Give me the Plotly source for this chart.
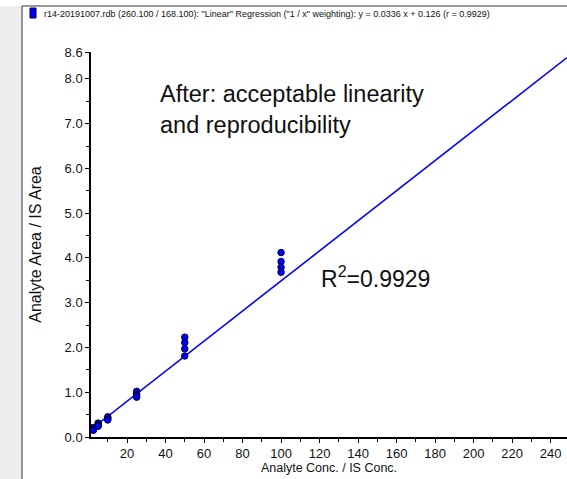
import plotly.graph_objects as go

# ---- data ----
conc = [2.5]*4 + [5]*4 + [10]*4 + [25]*4 + [50]*4 + [100]*4
ratio = [0.21, 0.18, 0.16, 0.15,
         0.31, 0.28, 0.26, 0.24,
         0.45, 0.42, 0.40, 0.38,
         1.02, 0.97, 0.93, 0.89,
         2.23, 2.11, 1.97, 1.81,
         4.12, 3.92, 3.79, 3.68]
slope = 0.0336
intercept = 0.126
x_range = [1.3, 248.5]
y_range = [0, 8.6]
y_tickvals = [0, 1, 2, 3, 4, 5, 6, 7, 8, 8.6]
y_ticktext = ["0.0", "1.0", "2.0", "3.0", "4.0", "5.0", "6.0", "7.0", "8.0", "8.6"]
y_minor = [0.5, 1.5, 2.5, 3.5, 4.5, 5.5, 6.5, 7.5]
x_tickvals = [20, 40, 60, 80, 100, 120, 140, 160, 180, 200, 220, 240]
x_minor = [10, 30, 50, 70, 90, 110, 130, 150, 170, 190, 210, 230]
header = ('r14-20191007.rdb (260.100 / 168.100): "Linear" Regression ("1 / x" weighting): '
          'y = 0.0336 x + 0.126 (r = 0.9929)')

W, H = 567, 479
L, R, T, B = 91, 0, 52, 42
pw, ph = W - L - R, H - T - B
def px(x): return (x - L) / pw
def py(y): return (H - B - y) / ph

ARIAL = "Liberation Sans, Arial"

fig = go.Figure()
line_x = x_range
line_y = [slope * v + intercept for v in line_x]
fig.add_trace(go.Scatter(x=line_x, y=line_y, mode="lines",
                         line=dict(color="#0000ff", width=1.6),
                         showlegend=False, hoverinfo="skip"))
fig.add_trace(go.Scatter(x=conc, y=ratio, mode="markers",
                         marker=dict(symbol="circle", size=6.5, color="#0000ff",
                                     line=dict(color="#000033", width=1)),
                         showlegend=False, cliponaxis=False))

fig.update_layout(
    width=W, height=H, margin=dict(l=L, r=R, t=T, b=B),
    paper_bgcolor="white", plot_bgcolor="white",
    xaxis=dict(range=x_range, tickmode="array", tickvals=x_tickvals,
               ticks="outside", ticklen=4, tickwidth=1, tickcolor="black",
               showline=True, linecolor="black", linewidth=1.5, showgrid=False,
               zeroline=False, mirror=False,
               tickfont=dict(family=ARIAL, size=13, color="#111"),
               minor=dict(tickmode="array", tickvals=x_minor, ticks="outside",
                          ticklen=3, tickcolor="black", showgrid=False),
               title=dict(text="Analyte Conc. / IS Conc.", standoff=3,
                          font=dict(family=ARIAL, size=12.5, color="#111"))),
    yaxis=dict(range=y_range, tickmode="array", tickvals=y_tickvals, ticktext=y_ticktext,
               ticks="outside", ticklen=4, tickwidth=1, tickcolor="black",
               showline=True, linecolor="black", linewidth=1.5, showgrid=False,
               zeroline=False,
               tickfont=dict(family=ARIAL, size=13, color="#111"),
               minor=dict(tickmode="array", tickvals=y_minor, ticks="outside",
                          ticklen=3, tickcolor="black", showgrid=False),
               title=dict(text="Analyte Area / IS Area", standoff=19,
                          font=dict(family=ARIAL, size=16, color="#111"))),
)

# frame / side panel
fig.add_shape(type="rect", xref="paper", yref="paper",
              x0=px(-2), x1=px(22), y0=py(H + 2), y1=py(6),
              fillcolor="#eeeeee", line=dict(width=0), layer="below")
fig.add_shape(type="line", xref="paper", yref="paper",
              x0=px(22), x1=px(22), y0=py(6), y1=py(H + 2),
              line=dict(color="#333", width=1))
fig.add_shape(type="line", xref="paper", yref="paper",
              x0=px(22), x1=px(W + 2), y0=py(6), y1=py(6),
              line=dict(color="#333", width=1))
# legend marker
fig.add_shape(type="rect", xref="paper", yref="paper",
              x0=px(30), x1=px(36), y0=py(18), y1=py(8),
              fillcolor="#0000ff", line=dict(color="#000033", width=1))
fig.add_annotation(xref="paper", yref="paper", x=px(42), y=py(14),
                   text=header, showarrow=False, xanchor="left", yanchor="middle",
                   font=dict(family=ARIAL, size=9, color="#111"))

fig.add_annotation(xref="paper", yref="paper", x=px(158), y=py(109),
                   text="After: acceptable linearity<br>and reproducibility",
                   showarrow=False, xanchor="left", yanchor="middle", align="left",
                   font=dict(family=ARIAL, size=23.5, color="#111"))
fig.add_annotation(xref="paper", yref="paper", x=px(319), y=py(277),
                   text="R<sup>2</sup>=0.9929",
                   showarrow=False, xanchor="left", yanchor="middle",
                   font=dict(family=ARIAL, size=23, color="#111"))

fig.write_html("out.html")
